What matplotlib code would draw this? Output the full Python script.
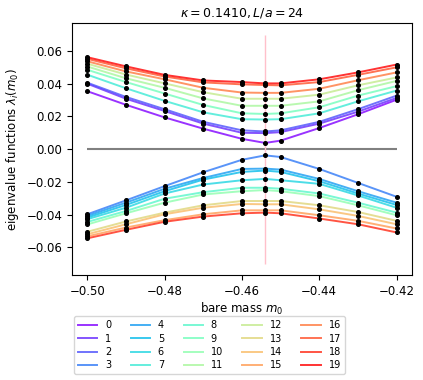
import matplotlib
matplotlib.use("Agg")
import matplotlib.pyplot as plt
import numpy as np

m0 = [-0.50, -0.49, -0.48, -0.47, -0.46, -0.454, -0.45, -0.44, -0.43, -0.42]
m_crit = -0.454

# upper branch (positive eigenvalues)
lam19 = [0.0562, 0.0506, 0.0454, 0.0420, 0.0410, 0.0402, 0.0402, 0.0427, 0.0469, 0.0517]
lam17 = [0.0552, 0.0494, 0.0444, 0.0408, 0.0396, 0.0392, 0.0390, 0.0410, 0.0454, 0.0500]
lam16 = [0.0537, 0.0475, 0.0427, 0.0375, 0.0346, 0.0344, 0.0344, 0.0369, 0.0421, 0.0469]
lam12 = [0.0522, 0.0456, 0.0402, 0.0348, 0.0308, 0.0308, 0.0308, 0.0333, 0.0390, 0.0438]
lam11 = [0.0505, 0.0433, 0.0375, 0.0310, 0.0265, 0.0265, 0.0265, 0.0292, 0.0360, 0.0417]
lam09 = [0.0485, 0.0410, 0.0340, 0.0270, 0.0219, 0.0215, 0.0219, 0.0256, 0.0327, 0.0385]
lam07 = [0.0455, 0.0372, 0.0295, 0.0225, 0.0183, 0.0181, 0.0183, 0.0219, 0.0292, 0.0358]
lam02 = [0.0406, 0.0319, 0.0244, 0.0167, 0.0115, 0.0108, 0.0115, 0.0167, 0.0244, 0.0327]
lam01 = [0.0400, 0.0308, 0.0233, 0.0156, 0.0100, 0.0098, 0.0104, 0.0156, 0.0229, 0.0313]
lam00 = [0.0354, 0.0271, 0.0194, 0.0125, 0.0063, 0.0038, 0.0052, 0.0129, 0.0213, 0.0302]

# lower branch (negative eigenvalues)
lam03 = [-0.0398, -0.0313, -0.0226, -0.0141, -0.0065, -0.0038, -0.0048, -0.0121, -0.0206, -0.0291]
lam04 = [-0.0408, -0.0327, -0.0242, -0.0176, -0.0121, -0.0119, -0.0125, -0.0182, -0.0257, -0.0327]
lam05 = [-0.0418, -0.0341, -0.0257, -0.0186, -0.0139, -0.0131, -0.0139, -0.0196, -0.0271, -0.0341]
lam06 = [-0.0428, -0.0358, -0.0271, -0.0216, -0.0190, -0.0182, -0.0190, -0.0212, -0.0283, -0.0358]
lam08 = [-0.0445, -0.0378, -0.0303, -0.0263, -0.0236, -0.0236, -0.0242, -0.0271, -0.0327, -0.0388]
lam10 = [-0.0460, -0.0392, -0.0327, -0.0277, -0.0257, -0.0250, -0.0257, -0.0287, -0.0343, -0.0404]
lam13 = [-0.0505, -0.0442, -0.0388, -0.0343, -0.0317, -0.0317, -0.0317, -0.0343, -0.0384, -0.0438]
lam14 = [-0.0520, -0.0459, -0.0398, -0.0358, -0.0335, -0.0337, -0.0337, -0.0368, -0.0408, -0.0459]
lam15 = [-0.0533, -0.0479, -0.0434, -0.0398, -0.0374, -0.0374, -0.0374, -0.0404, -0.0438, -0.0485]
lam18 = [-0.0545, -0.0493, -0.0444, -0.0412, -0.0392, -0.0388, -0.0392, -0.0424, -0.0459, -0.0509]

eigen = [lam00, lam01, lam02, lam03, lam04, lam05, lam06, lam07, lam08, lam09,
         lam10, lam11, lam12, lam13, lam14, lam15, lam16, lam17, lam18, lam19]
labels = [str(i) for i in range(20)]

fig = plt.figure(figsize=(4.23, 3.8), dpi=100)
ax = fig.add_axes([0.170, 0.276, 0.804, 0.663])

cmap = plt.get_cmap("rainbow")
n = len(eigen)
for i, lam in enumerate(eigen):
    ax.plot(m0, lam, color=cmap(i / (n - 1)), alpha=0.8, lw=1.4, label=labels[i], zorder=2)
for lam in eigen:
    ax.plot(m0, lam, "o", color="black", ms=2.6, zorder=3)

ax.hlines(0, m0[0], m0[-1], color="gray", lw=1.5, zorder=1)
ax.vlines(m_crit, -0.07, 0.07, color="pink", lw=1.0, zorder=1)

ax.set_xticks([-0.50, -0.48, -0.46, -0.44, -0.42])
ax.set_yticks([-0.06, -0.04, -0.02, 0.00, 0.02, 0.04, 0.06])
ax.tick_params(labelsize=8.5)
ax.set_xlabel("bare mass $m_0$", fontsize=8.5, labelpad=2)
ax.set_ylabel("eigenvalue functions $\\lambda_i(m_0)$", fontsize=8.5)
ax.set_title("$\\kappa = 0.1410, L/a = 24$", fontsize=9, pad=5)

handles, labs = ax.get_legend_handles_labels()
fig.legend(handles, labs, loc="lower center", bbox_to_anchor=(0.495, 0.002), ncol=5,
           fontsize=7, handlelength=2.0, labelspacing=0.35, columnspacing=2.0)

fig.savefig("out.png", dpi=100)
